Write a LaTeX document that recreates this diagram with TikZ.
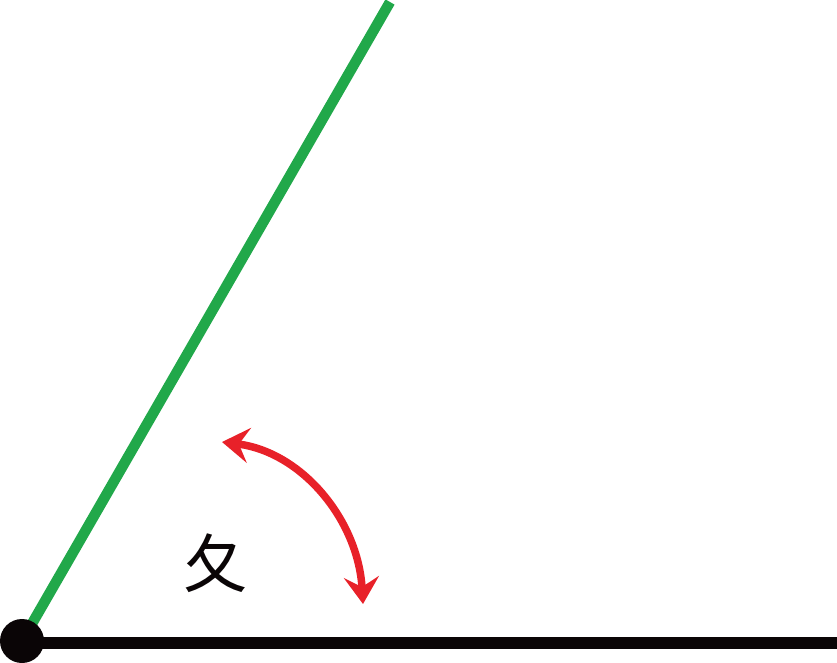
\documentclass[tikz,border=0pt]{standalone}
\usepackage{fontspec}
\newfontfamily\cjk{Noto Sans CJK SC}
\usetikzlibrary{arrows.meta}
\definecolor{lgreen}{RGB}{33,168,74}
\definecolor{lred}{RGB}{232,33,41}
\definecolor{lblack}{RGB}{10,5,6}
\tikzset{
  baseline/.style={line width=12.5pt, draw=lblack},
  ray/.style={line width=10.5pt, draw=lgreen},
  redtip/.tip={Stealth[length=27pt,width=35pt,inset=10pt]},
  anglearrow/.style={line width=7.5pt, draw=lred, redtip-redtip},
}
\begin{document}
\begin{tikzpicture}[x=1pt,y=-1pt]
\useasboundingbox (0,0) rectangle (837,662);
\coordinate (O) at (22,641);
\coordinate (E) at (837,643);
\coordinate (T) at (390,2);
\coordinate (A) at (222,442);
\coordinate (B) at (363,604);
\draw[ray] (O) -- (T);
\draw[baseline] (O |- E) -- (E);
\fill[lblack] (O) circle (22);
\draw[anglearrow] (A) .. controls (302,452) and (358,520) .. (B);
\node[font=\cjk\fontsize{64}{64}\selectfont, text=lblack, inner sep=0pt] (lab) at (215,563) {夂};
\end{tikzpicture}
\end{document}
